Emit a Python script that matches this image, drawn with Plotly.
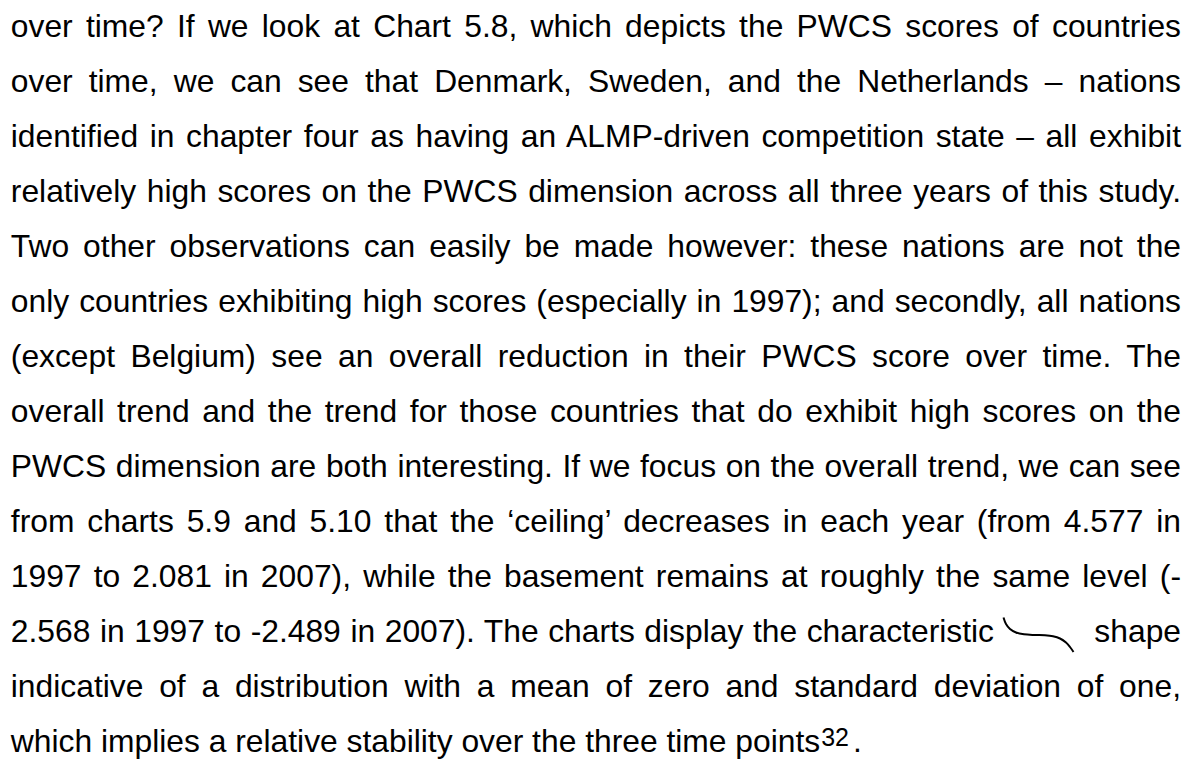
import json
import plotly.graph_objects as go

# ---- content (text lines of the paragraph) ----
JUSTIFIED_LINES = [
    "over time? If we look at Chart 5.8, which depicts the PWCS scores of countries",
    "over time, we can see that Denmark, Sweden, and the Netherlands – nations",
    "identified in chapter four as having an ALMP-driven competition state – all exhibit",
    "relatively high scores on the PWCS dimension across all three years of this study.",
    "Two other observations can easily be made however: these nations are not the",
    "only countries exhibiting high scores (especially in 1997); and secondly, all nations",
    "(except Belgium) see an overall reduction in their PWCS score over time. The",
    "overall trend and the trend for those countries that do exhibit high scores on the",
    "PWCS dimension are both interesting. If we focus on the overall trend, we can see",
    "from charts 5.9 and 5.10 that the ‘ceiling’ decreases in each year (from 4.577 in",
    "1997 to 2.081 in 2007), while the basement remains at roughly the same level (-",
    "2.568 in 1997 to -2.489 in 2007). The charts display the characteristic",
    "indicative of a distribution with a mean of zero and standard deviation of one,",
]
SHAPE_WORD = "shape"
LAST_LINE = "which implies a relative stability over the three time points<sup>32</sup>."

# inline curve glyph (page pixel coordinates)
CURVE_X = [1003.5, 1006, 1010, 1016, 1024, 1035, 1045, 1053, 1060, 1066, 1070, 1073.5]
CURVE_Y = [617.5, 624, 629, 632.5, 634.3, 635, 635.3, 636.3, 638.5, 642.5, 647, 652]

# ---- layout constants ----
W, H = 1202, 761
FONT = 31.8
FAMILY = "Liberation Sans, Arial, sans-serif"
LEFT, RIGHT = 10.8, 1181.0
LINE12_RIGHT = 994.0
BASE0, STEP = 36.8, 55.05
MID = 0.25 * FONT  # baseline offset of plotly 'middle' text


def baseline_y(i):
    return BASE0 + i * STEP - MID


xs, ys, targets = [], [], []
for i, line in enumerate(JUSTIFIED_LINES):
    row = i if i < 12 else 12
    right = LINE12_RIGHT if i == 11 else RIGHT
    xs.append((LEFT + right) / 2)
    ys.append(baseline_y(row))
    targets.append(right - LEFT)

fig = go.Figure()
fig.add_trace(go.Scatter(
    x=xs, y=ys, text=JUSTIFIED_LINES, mode="text",
    textposition="middle center",
    textfont=dict(family=FAMILY, size=FONT, color="#000000"),
    hoverinfo="skip", cliponaxis=False,
))
fig.add_trace(go.Scatter(
    x=[RIGHT, LEFT], y=[baseline_y(11), baseline_y(13)],
    text=[SHAPE_WORD, LAST_LINE], mode="text",
    textposition=["middle left", "middle right"],
    textfont=dict(family=FAMILY, size=FONT, color="#000000"),
    hoverinfo="skip", cliponaxis=False,
))
fig.add_trace(go.Scatter(
    x=CURVE_X, y=CURVE_Y, mode="lines",
    line=dict(color="#000000", width=2.0, shape="spline"),
    hoverinfo="skip",
))

fig.update_layout(
    width=W, height=H, margin=dict(l=0, r=0, t=0, b=0, pad=0),
    paper_bgcolor="white", plot_bgcolor="white", showlegend=False,
    hovermode=False,
    xaxis=dict(range=[0, W], visible=False, fixedrange=True),
    yaxis=dict(range=[H, 0], visible=False, fixedrange=True),
)

post = """
(function(){
  document.documentElement.style.margin = '0';
  document.body.style.margin = '0';
  document.body.style.padding = '0';
  document.body.style.overflow = 'hidden';
  var gd = document.getElementById('{plot_id}');
  var targets = %s;
  var trs = gd.querySelectorAll('.scatterlayer .trace');
  var texts = trs[0].querySelectorAll('.textpoint text');
  for (var i = 0; i < texts.length && i < targets.length; i++) {
    var t = texts[i];
    var w = t.getComputedTextLength();
    var n = (t.textContent.match(/ /g) || []).length;
    if (n > 0) {
      t.style.wordSpacing = ((targets[i] - w) / n) + 'px';
      var w2 = t.getComputedTextLength();
      if (Math.abs(w2 - targets[i]) > 2) {
        t.style.wordSpacing = '';
        t.setAttribute('textLength', targets[i]);
        t.setAttribute('lengthAdjust', 'spacing');
      }
    }
  }
  // superscript: size and raise as in the source page
  var spans = trs[1].querySelectorAll('tspan');
  for (var j = 0; j < spans.length; j++) {
    var s = spans[j];
    var dy = s.getAttribute('dy') || '';
    if (dy.indexOf('-') === 0 && dy.indexOf('em') > 0) {
      s.style.fontSize = '25px';
      s.setAttribute('dy', '-6px');
      s.setAttribute('dx', '1px');
    } else if (dy.indexOf('em') > 0 && parseFloat(dy) > 0) {
      s.setAttribute('dy', '6px');
      s.setAttribute('dx', '4px');
    }
  }
})();
""" % json.dumps(targets)

fig.write_html("out.html", post_script=post, config={"displayModeBar": False, "staticPlot": True})
